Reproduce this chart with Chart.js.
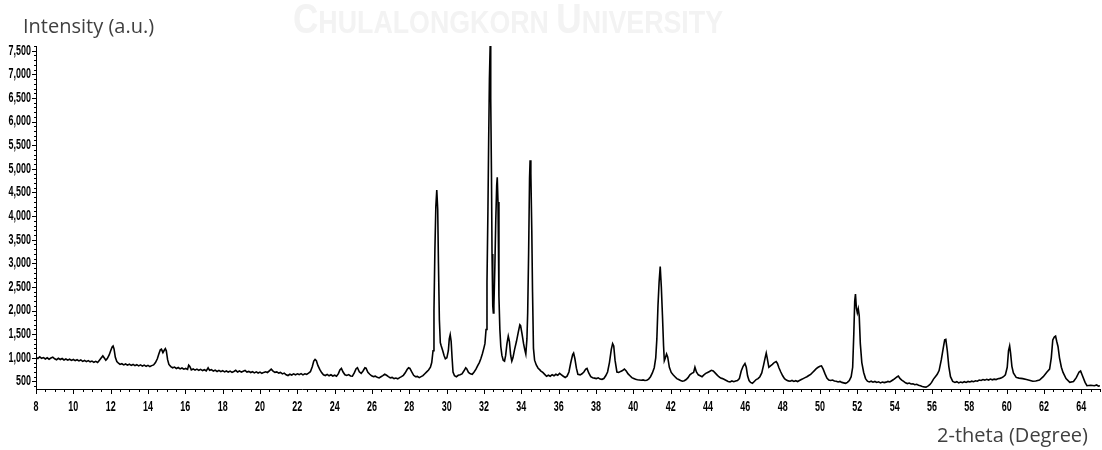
<!DOCTYPE html>
<html>
<head>
<meta charset="utf-8">
<script src="https://cdn.jsdelivr.net/npm/chart.js@4.4.1/dist/chart.umd.min.js"></script>
<style>
  html, body { margin: 0; padding: 0; background: #ffffff; }
  #wrap { width: 1102px; height: 450px; position: relative; }
</style>
</head>
<body>
<div id="wrap"><canvas id="xrd" width="1102" height="450"></canvas></div>
<script>
// Diffraction angle (degrees 2-theta) of each recorded point
const twoTheta = [
  8.00, 8.10, 8.20, 8.30, 8.40, 8.50, 8.60, 8.70, 8.80, 8.90,
  9.00, 9.10, 9.20, 9.30, 9.40, 9.50, 9.60, 9.70, 9.80, 9.90,
  10.00, 10.10, 10.20, 10.30, 10.40, 10.50, 10.60, 10.70, 10.80, 10.90,
  11.00, 11.10, 11.20, 11.30, 11.40, 11.50, 11.58, 11.66, 11.74, 11.82,
  11.92, 12.00, 12.08, 12.13, 12.18, 12.25, 12.33, 12.42, 12.50, 12.60,
  12.70, 12.80, 12.90, 13.00, 13.10, 13.20, 13.30, 13.40, 13.50, 13.60,
  13.70, 13.80, 13.90, 14.00, 14.10, 14.20, 14.30, 14.40, 14.50, 14.58,
  14.66, 14.72, 14.80, 14.87, 14.93, 14.98, 15.05, 15.12, 15.22, 15.32,
  15.42, 15.52, 15.62, 15.72, 15.82, 15.92, 16.02, 16.12, 16.18, 16.24,
  16.32, 16.42, 16.52, 16.62, 16.72, 16.82, 16.92, 17.02, 17.12, 17.22,
  17.30, 17.40, 17.50, 17.60, 17.70, 17.80, 17.90, 18.00, 18.10, 18.20,
  18.30, 18.40, 18.50, 18.60, 18.70, 18.80, 18.90, 19.00, 19.10, 19.20,
  19.30, 19.40, 19.50, 19.60, 19.70, 19.80, 19.90, 20.00, 20.10, 20.20,
  20.30, 20.40, 20.50, 20.60, 20.70, 20.80, 20.90, 21.00, 21.10, 21.20,
  21.30, 21.40, 21.50, 21.60, 21.70, 21.80, 21.90, 22.00, 22.10, 22.20,
  22.30, 22.40, 22.50, 22.60, 22.70, 22.80, 22.88, 22.95, 23.02, 23.10,
  23.20, 23.30, 23.40, 23.50, 23.60, 23.70, 23.80, 23.90, 24.00, 24.10,
  24.20, 24.28, 24.36, 24.45, 24.55, 24.65, 24.75, 24.85, 24.95, 25.05,
  25.15, 25.22, 25.32, 25.42, 25.52, 25.62, 25.68, 25.78, 25.88, 25.98,
  26.08, 26.18, 26.28, 26.38, 26.48, 26.58, 26.68, 26.78, 26.88, 26.98,
  27.08, 27.18, 27.28, 27.38, 27.48, 27.58, 27.68, 27.78, 27.88, 27.96,
  28.03, 28.13, 28.23, 28.33, 28.43, 28.53, 28.63, 28.73, 28.83, 28.93,
  29.03, 29.13, 29.20, 29.27, 29.32, 29.37, 29.42, 29.47, 29.52, 29.56,
  29.61, 29.66, 29.71, 29.79, 29.86, 29.93, 30.01, 30.09, 30.14, 30.19,
  30.24, 30.29, 30.34, 30.42, 30.52, 30.62, 30.72, 30.82, 30.92, 31.02,
  31.07, 31.17, 31.27, 31.37, 31.47, 31.57, 31.67, 31.75, 31.83, 31.91,
  31.99, 32.05, 32.11, 32.16, 32.21, 32.25, 32.29, 32.33, 32.36, 32.40,
  32.43, 32.47, 32.50, 32.53, 32.58, 32.63, 32.68, 32.71, 32.75, 32.80,
  32.85, 32.90, 32.96, 33.03, 33.10, 33.16, 33.23, 33.30, 33.36, 33.43,
  33.49, 33.55, 33.64, 33.74, 33.84, 33.92, 33.96, 34.04, 34.12, 34.18,
  34.24, 34.30, 34.34, 34.39, 34.44, 34.47, 34.51, 34.56, 34.60, 34.65,
  34.71, 34.80, 34.90, 34.98, 35.05, 35.15, 35.25, 35.35, 35.45, 35.55,
  35.65, 35.75, 35.85, 35.95, 36.05, 36.15, 36.25, 36.35, 36.45, 36.55,
  36.65, 36.75, 36.80, 36.87, 36.95, 37.03, 37.15, 37.25, 37.35, 37.45,
  37.52, 37.61, 37.72, 37.82, 37.92, 38.02, 38.12, 38.22, 38.32, 38.42,
  38.52, 38.62, 38.72, 38.82, 38.89, 38.95, 39.02, 39.12, 39.22, 39.32,
  39.42, 39.52, 39.62, 39.72, 39.82, 39.92, 40.02, 40.12, 40.22, 40.32,
  40.42, 40.52, 40.62, 40.72, 40.82, 40.92, 41.02, 41.12, 41.20, 41.26,
  41.32, 41.38, 41.44, 41.50, 41.56, 41.62, 41.66, 41.72, 41.78, 41.84,
  41.93, 42.03, 42.13, 42.23, 42.33, 42.43, 42.53, 42.63, 42.73, 42.83,
  42.93, 43.03, 43.13, 43.23, 43.30, 43.38, 43.48, 43.58, 43.68, 43.78,
  43.88, 43.98, 44.08, 44.18, 44.28, 44.38, 44.48, 44.58, 44.68, 44.78,
  44.88, 44.98, 45.08, 45.18, 45.28, 45.38, 45.48, 45.58, 45.68, 45.78,
  45.88, 45.98, 46.05, 46.12, 46.20, 46.28, 46.38, 46.48, 46.58, 46.68,
  46.78, 46.88, 46.98, 47.06, 47.12, 47.17, 47.26, 47.35, 47.45, 47.55,
  47.65, 47.72, 47.80, 47.90, 48.00, 48.10, 48.20, 48.30, 48.40, 48.50,
  48.60, 48.70, 48.80, 48.90, 49.00, 49.10, 49.20, 49.30, 49.40, 49.50,
  49.60, 49.70, 49.80, 49.90, 50.00, 50.08, 50.17, 50.27, 50.37, 50.47,
  50.57, 50.67, 50.77, 50.87, 50.97, 51.07, 51.17, 51.27, 51.37, 51.47,
  51.57, 51.67, 51.75, 51.81, 51.86, 51.90, 51.95, 52.00, 52.05, 52.10,
  52.16, 52.24, 52.34, 52.44, 52.54, 52.64, 52.74, 52.84, 52.94, 53.04,
  53.14, 53.24, 53.34, 53.44, 53.54, 53.64, 53.74, 53.84, 53.94, 54.04,
  54.14, 54.20, 54.28, 54.38, 54.48, 54.58, 54.68, 54.78, 54.88, 54.98,
  55.08, 55.18, 55.28, 55.38, 55.48, 55.58, 55.68, 55.78, 55.88, 55.98,
  56.08, 56.18, 56.28, 56.38, 56.50, 56.60, 56.68, 56.74, 56.82, 56.90,
  56.99, 57.11, 57.23, 57.33, 57.43, 57.53, 57.63, 57.73, 57.83, 57.93,
  58.03, 58.13, 58.23, 58.33, 58.43, 58.53, 58.63, 58.73, 58.83, 58.93,
  59.03, 59.13, 59.23, 59.33, 59.43, 59.53, 59.63, 59.73, 59.83, 59.93,
  60.03, 60.10, 60.16, 60.21, 60.28, 60.36, 60.51, 60.66, 60.86, 61.06,
  61.26, 61.40, 61.56, 61.76, 61.96, 62.16, 62.30, 62.39, 62.47, 62.55,
  62.62, 62.68, 62.75, 62.83, 62.93, 63.02, 63.18, 63.38, 63.58, 63.73,
  63.88, 63.96, 64.04, 64.20, 64.30, 64.50, 64.70, 64.82, 64.92, 65.00
];

// Measured intensity (counts) at each angle above
const counts = [
  1010, 985, 1020, 990, 1005, 975, 1000, 970, 995, 1015,
  980, 960, 990, 965, 985, 955, 975, 950, 970, 945,
  965, 940, 960, 935, 955, 925, 945, 920, 940, 915,
  930, 905, 925, 900, 950, 1000, 1040, 995, 950, 985,
  1060, 1150, 1230, 1250, 1190, 1010, 920, 885, 860, 875,
  850, 870, 845, 865, 840, 860, 835, 855, 830, 850,
  825, 845, 820, 840, 815, 835, 850, 900, 980, 1080,
  1170, 1185, 1110, 1160, 1195, 1150, 960, 860, 815, 790,
  805, 775, 795, 765, 785, 760, 775, 755, 845, 820,
  745, 765, 740, 760, 735, 755, 730, 748, 725, 790,
  735, 750, 720, 740, 712, 735, 708, 728, 702, 722,
  698, 718, 692, 712, 735, 700, 722, 696, 716, 735,
  698, 712, 688, 706, 682, 702, 678, 698, 672, 692,
  705, 690, 725, 760, 720, 692, 702, 676, 690, 660,
  676, 642, 625, 652, 636, 660, 640, 662, 645, 666,
  640, 662, 650, 676, 705, 810, 930, 965, 940, 840,
  755, 688, 642, 626, 650, 620, 642, 615, 632, 612,
  665, 745, 775, 700, 642, 626, 645, 616, 610, 680,
  770, 792, 705, 670, 722, 788, 780, 692, 652, 620,
  602, 612, 586, 575, 600, 622, 652, 630, 602, 576,
  586, 560, 572, 555, 582, 602, 630, 682, 752, 790,
  775, 700, 630, 600, 606, 580, 602, 622, 662, 702,
  742, 800, 900, 1150, 2000, 3300, 4200, 4550, 4150, 3000,
  1800, 1320, 1250, 1150, 1050, 980, 1000, 1150, 1400, 1490,
  1350, 1000, 700, 620, 600, 630, 640, 660, 720, 790,
  770, 690, 660, 650, 700, 760, 840, 900, 980, 1080,
  1200, 1300, 1600, 2600, 4100, 5600, 6900, 7600, 6500, 4900,
  3200, 2100, 1950, 2100, 2900, 3900, 4650, 4820, 4300, 2300,
  1600, 1240, 1050, 950, 930, 1050, 1300, 1460, 1350, 1050,
  930, 1000, 1180, 1350, 1550, 1700, 1680, 1500, 1300, 1180,
  1080, 1400, 1950, 3200, 4800, 5180, 4900, 3700, 2400, 1200,
  950, 850, 780, 750, 720, 690, 650, 610, 632, 610,
  642, 620, 652, 630, 670, 640, 610, 585, 612, 700,
  900, 1070, 1100, 980, 780, 650, 640, 662, 700, 760,
  775, 680, 600, 580, 570, 560, 576, 550, 545, 562,
  620, 700, 900, 1180, 1300, 1250, 950, 700, 690, 712,
  730, 762, 720, 660, 620, 580, 562, 545, 535, 530,
  525, 532, 520, 526, 550, 600, 680, 790, 1000, 1400,
  2100, 2600, 2930, 2500, 1900, 1250, 940, 1000, 1080, 1020,
  800, 690, 640, 600, 560, 540, 520, 505, 515, 540,
  580, 640, 670, 690, 800, 700, 640, 620, 600, 640,
  670, 690, 710, 735, 720, 680, 640, 600, 570, 560,
  540, 520, 500, 490, 510, 495, 510, 520, 560, 720,
  820, 880, 800, 620, 520, 480, 460, 500, 540, 560,
  600, 680, 850, 1000, 1100, 1000, 800, 830, 860, 900,
  920, 880, 790, 700, 620, 560, 530, 512, 505, 520,
  500, 515, 498, 520, 540, 560, 580, 600, 625, 650,
  690, 730, 770, 800, 820, 830, 760, 660, 570, 530,
  520, 530, 510, 505, 490, 500, 480, 470, 460, 480,
  520, 600, 800, 1500, 2200, 2350, 2050, 1950, 2040, 1900,
  1300, 900, 690, 560, 505, 490, 505, 485, 500, 478,
  492, 470, 488, 475, 485, 500, 490, 515, 540, 570,
  600, 615, 565, 530, 500, 470, 455, 465, 445, 450,
  430, 440, 420, 410, 395, 385, 380, 400, 430, 480,
  550, 600, 650, 730, 960, 1200, 1380, 1390, 1150, 820,
  600, 500, 480, 495, 470, 488, 475, 495, 480, 500,
  488, 505, 495, 515, 505, 530, 520, 540, 528, 545,
  530, 550, 535, 548, 540, 555, 565, 580, 600, 640,
  800, 1150, 1250, 1100, 820, 680, 585, 570, 560, 540,
  520, 505, 510, 530, 600, 700, 760, 1000, 1380, 1440,
  1460, 1350, 1240, 1000, 800, 690, 560, 480, 500, 580,
  700, 720, 640, 480, 410, 420, 410, 425, 400, 410
];

// Labelled ticks on each axis
const xTicks = [8, 10, 12, 14, 16, 18, 20, 22, 24, 26, 28, 30, 32, 34, 36,
                38, 40, 42, 44, 46, 48, 50, 52, 54, 56, 58, 60, 62, 64];
const yTicks = [500, 1000, 1500, 2000, 2500, 3000, 3500, 4000,
                4500, 5000, 5500, 6000, 6500, 7000, 7500];

// Condensed bold tick labels and the tick marks (major and minor),
// all placed through the chart's own scales
const axisDecor = {
  id: 'axisDecor',
  afterDraw(chart) {
    const { ctx, chartArea: area, scales: { x, y } } = chart;
    ctx.save();
    ctx.strokeStyle = '#000';
    ctx.lineWidth = 1;
    ctx.beginPath();
    for (let i = 16; i <= 130; i++) {
      const v = i / 2;
      if (v > x.max) break;
      const px = Math.round(x.getPixelForValue(v)) + 0.5;
      const len = xTicks.includes(v) ? 5 : 3;
      ctx.moveTo(px, area.bottom);
      ctx.lineTo(px, area.bottom + len);
    }
    for (let i = 4; i <= 76; i++) {
      const v = i * 100;
      if (v < y.min || v > y.max) continue;
      const py = Math.round(y.getPixelForValue(v)) + 0.5;
      const len = yTicks.includes(v) ? 4 : 2;
      ctx.moveTo(area.left, py);
      ctx.lineTo(area.left - len, py);
    }
    ctx.stroke();

    ctx.fillStyle = '#000';
    ctx.font = 'bold 14px "Liberation Sans", Arial, sans-serif';
    ctx.textBaseline = 'middle';
    const squeeze = 0.64;
    ctx.textAlign = 'center';
    for (const v of xTicks) {
      ctx.save();
      ctx.translate(x.getPixelForValue(v), area.bottom + 18);
      ctx.scale(squeeze, 1);
      ctx.fillText(String(v), 0, 0);
      ctx.restore();
    }
    ctx.textAlign = 'right';
    for (const v of yTicks) {
      ctx.save();
      ctx.translate(area.left - 5, y.getPixelForValue(v));
      ctx.scale(squeeze, 1);
      ctx.fillText(v.toLocaleString('en-US'), 0, 0);
      ctx.restore();
    }
    ctx.restore();
  }
};

// Axis captions: intensity above the y axis, angle under the right end of the x axis
const axisCaptions = {
  id: 'axisCaptions',
  afterDraw(chart) {
    const ctx = chart.ctx;
    ctx.save();
    ctx.fillStyle = '#404040';
    ctx.font = '20px "Open Sans", "Noto Sans", sans-serif';
    ctx.textBaseline = 'alphabetic';
    ctx.textAlign = 'left';
    ctx.fillText('Intensity (a.u.)', 23, 33);
    ctx.textAlign = 'right';
    ctx.fillText('2-theta (Degree)', 1088, 442);
    ctx.restore();
  }
};

// Faint institutional mark across the top
const watermark = {
  id: 'watermark',
  beforeDraw(chart) {
    const ctx = chart.ctx;
    const fam = '"Liberation Sans", Arial, sans-serif';
    const parts = [
      ['C', 42], ['HULALONGKORN ', 32], ['U', 42], ['NIVERSITY', 32]
    ];
    ctx.save();
    let w = 0;
    for (const [t, s] of parts) { ctx.font = `bold ${s}px ${fam}`; w += ctx.measureText(t).width; }
    const sx = 430 / w;
    ctx.translate(293, 33);
    ctx.scale(sx, 1);
    ctx.fillStyle = '#f3f3f3';
    ctx.textBaseline = 'alphabetic';
    let cx = 0;
    for (const [t, s] of parts) {
      ctx.font = `bold ${s}px ${fam}`;
      ctx.fillText(t, cx, 0);
      cx += ctx.measureText(t).width;
    }
    ctx.restore();
  }
};

new Chart(document.getElementById('xrd'), {
  type: 'line',
  data: {
    datasets: [{
      label: 'Intensity',
      data: twoTheta.map((t, i) => ({ x: t, y: counts[i] })),
      borderColor: '#000000',
      borderWidth: 1.6,
      pointRadius: 0,
      tension: 0,
      fill: false
    }]
  },
  options: {
    responsive: false,
    devicePixelRatio: 1,
    animation: false,
    layout: { padding: { top: 46, right: 2, bottom: 0, left: 0 } },
    plugins: { legend: { display: false }, tooltip: { enabled: false } },
    scales: {
      x: {
        type: 'linear',
        min: 8,
        max: 65,
        afterBuildTicks: s => { s.ticks = xTicks.map(v => ({ value: v })); },
        afterFit: s => { s.height = 61; },
        grid: { display: false, drawTicks: false },
        border: { display: true, color: '#000', width: 1 },
        ticks: { display: false }
      },
      y: {
        type: 'linear',
        min: 340,
        max: 7600,
        afterBuildTicks: s => { s.ticks = yTicks.map(v => ({ value: v })); },
        afterFit: s => { s.width = 36; },
        grid: { display: false, drawTicks: false },
        border: { display: true, color: '#000', width: 1 },
        ticks: { display: false }
      }
    }
  },
  plugins: [watermark, axisDecor, axisCaptions]
});
</script>
</body>
</html>
